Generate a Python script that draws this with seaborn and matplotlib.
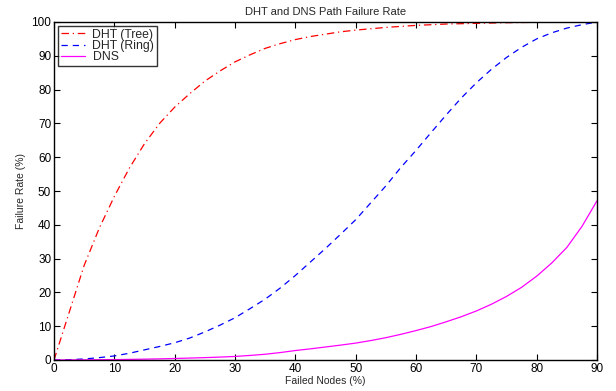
import numpy as np
import pandas as pd
import matplotlib
matplotlib.use("Agg")
import matplotlib.pyplot as plt
import seaborn as sns

failed_nodes = [0, 2.5, 5, 7.5, 10, 12.5, 15, 17.5, 20, 22.5, 25, 27.5, 30, 32.5, 35, 37.5,
                40, 42.5, 45, 47.5, 50, 52.5, 55, 57.5, 60, 62.5, 65, 67.5, 70, 72.5, 75,
                77.5, 80, 82.5, 85, 87.5, 90]
tree_rate = [0, 14.0, 28.0, 39.0, 48.4, 56.8, 64.0, 70.0, 74.8, 78.8, 82.5, 85.5, 88.2, 90.3,
             92.2, 93.6, 94.8, 95.7, 96.4, 97.1, 97.6, 98.0, 98.4, 98.7, 99.0, 99.2, 99.4,
             99.5, 99.6, 99.7, 99.8, 99.85, 99.9, 99.95, 100, 100, 100]
ring_rate = [0, 0.1, 0.3, 0.7, 1.2, 2.0, 3.0, 4.0, 5.1, 6.5, 8.3, 10.3, 12.5, 15.2, 18.0, 21.3,
             25.0, 29.0, 33.0, 37.2, 41.5, 46.5, 51.5, 57.0, 62.0, 67.3, 72.5, 77.5, 82.0,
             86.0, 89.5, 92.5, 95.0, 96.8, 98.2, 99.2, 100]
dns_rate = [0, 0.02, 0.05, 0.08, 0.12, 0.18, 0.25, 0.34, 0.45, 0.57, 0.7, 0.86, 1.05, 1.35,
            1.7, 2.2, 2.8, 3.3, 3.85, 4.4, 5.0, 5.75, 6.6, 7.6, 8.7, 9.9, 11.3, 12.8, 14.5,
            16.5, 18.8, 21.5, 24.8, 28.7, 33.3, 39.5, 47.1]

series_names = ["DHT (Tree)", "DHT (Ring)", "DNS"]
series_values = [tree_rate, ring_rate, dns_rate]
series_colors = ["#ff0000", "#0000ff", "#ff00ff"]
series_dashes = [(6, 3, 1, 3), (5, 4), ""]

x_ticks = [0, 10, 20, 30, 40, 50, 60, 70, 80, 90]
y_ticks = [0, 10, 20, 30, 40, 50, 60, 70, 80, 90, 100]

sns.set_style("ticks")
plt.rcParams["font.family"] = ["Liberation Sans", "DejaVu Sans"]
plt.rcParams["xtick.direction"] = "in"
plt.rcParams["ytick.direction"] = "in"

fig = plt.figure(figsize=(6.16, 3.91), dpi=100)
ax = fig.add_axes([54 / 616, 1 - 360 / 391, (597 - 54) / 616, (360 - 22) / 391])

for name, vals, col, dsh in zip(series_names, series_values, series_colors, series_dashes):
    df = pd.DataFrame({"x": failed_nodes, "y": vals})
    sns.lineplot(data=df, x="x", y="y", ax=ax, color=col, linewidth=0.9,
                 label=name, estimator=None, sort=False)
    l = ax.get_lines()[-1]
    if dsh:
        l.set_dashes(dsh)

ax.set_xlim(0, 90)
ax.set_ylim(0, 100)
ax.set_xticks(x_ticks)
ax.set_yticks(y_ticks)
ax.tick_params(axis="both", which="both", direction="in", top=True, right=True,
               length=4, width=0.8, labelsize=8.5, pad=2, colors="black")
for s in ax.spines.values():
    s.set_visible(True)
    s.set_linewidth(1.0)
    s.set_color("black")

ax.set_title("DHT and DNS Path Failure Rate", fontsize=8, pad=5)
ax.set_xlabel("Failed Nodes (%)", fontsize=7.5, labelpad=1)
ax.set_ylabel("Failure Rate (%)", fontsize=7.5, labelpad=4)

leg = ax.legend(loc="upper left", fontsize=8.8, frameon=True, fancybox=False,
                borderaxespad=0.35, handlelength=2.0, handletextpad=0.6,
                labelspacing=-0.05, borderpad=0.2)
leg.get_frame().set_edgecolor("black")
leg.get_frame().set_linewidth(1.0)

fig.savefig("out.png", dpi=100)
